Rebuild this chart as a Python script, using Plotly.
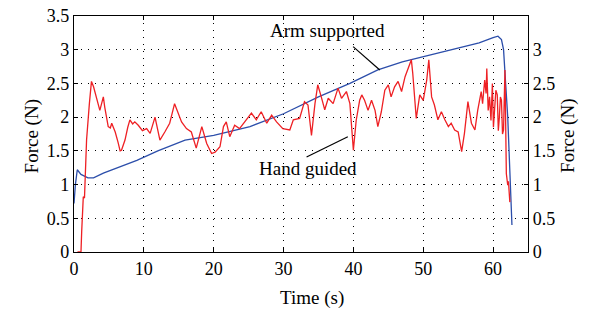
import plotly.graph_objects as go

# Arm supported (blue)
arm_t = [0.0, 0.2, 0.47, 1.0, 2.0, 2.8, 4.2, 6.0, 9.0, 12.0, 15.9, 20.0, 25.2, 30.0, 35.0,
         39.5, 43.5, 47.0, 50.9, 55.0, 58.0, 60.0, 60.7, 61.2, 61.5, 61.8, 62.1, 62.4, 62.7]
arm_f = [0.72, 1.0, 1.22, 1.15, 1.10, 1.10, 1.17, 1.24, 1.36, 1.50, 1.66, 1.73, 1.86, 2.05, 2.30,
         2.50, 2.70, 2.82, 2.92, 3.02, 3.10, 3.18, 3.20, 3.15, 3.00, 2.50, 2.00, 1.20, 0.40]

# Hand guided (red)
hand_t = [0.5, 1.0, 1.1, 1.33, 1.5, 1.8, 2.2, 2.5, 2.8, 3.2, 3.5, 3.7, 4.2, 4.4, 4.9, 5.2, 5.4,
          5.9, 6.3, 6.6, 6.8, 7.3, 7.7, 8.0, 8.4, 8.7, 9.2, 9.8, 10.4, 10.9, 11.6, 12.3, 13.0,
          13.7, 14.4, 14.9, 15.4, 16.1, 16.8, 17.5, 18.3, 19.0, 19.7, 20.2, 20.9, 21.4, 21.8,
          22.3, 23.0, 23.7, 24.5, 25.4, 26.1, 26.8, 27.6, 28.3, 29.0, 29.9, 30.9, 31.4, 32.3,
          33.0, 33.5, 34.0, 34.5, 34.9, 35.4, 35.9, 36.4, 37.1, 37.8, 38.3, 39.0, 39.5, 40.0,
          40.4, 40.9, 41.2, 41.6, 42.1, 42.6, 43.1, 43.5, 44.0, 44.5, 45.0, 45.4, 45.9, 46.4,
          46.9, 47.4, 47.8, 48.3, 48.5, 49.0, 49.5, 50.0, 50.5, 50.8, 51.2, 51.6, 52.1, 52.6,
          53.1, 53.6, 54.0, 54.5, 55.0, 55.5, 55.9, 56.4, 56.9, 57.4, 57.8, 58.1, 58.3, 58.5,
          58.8, 59.0, 59.1, 59.3, 59.5, 59.7, 59.9, 60.05, 60.2, 60.4, 60.6, 60.75, 60.9, 61.05,
          61.2, 61.35, 61.5, 61.7, 61.9, 62.1, 62.2, 62.4]
hand_f = [0.0, 0.0, 0.3, 0.82, 0.80, 1.66, 2.20, 2.53, 2.45, 2.30, 2.15, 2.10, 2.30, 2.15, 1.86,
          1.84, 1.91, 1.78, 1.63, 1.50, 1.51, 1.66, 1.85, 1.96, 1.90, 1.93, 1.88, 1.80, 1.83,
          1.76, 2.00, 1.66, 1.78, 1.91, 2.20, 2.06, 1.93, 1.83, 1.78, 1.54, 1.86, 1.61, 1.46,
          1.48, 1.56, 1.86, 1.93, 1.71, 1.88, 1.83, 1.93, 2.06, 1.96, 2.08, 1.91, 2.03, 1.93,
          1.83, 1.81, 1.96, 1.98, 2.23, 2.18, 1.73, 2.20, 2.48, 2.30, 2.11, 2.28, 2.20, 2.43,
          2.28, 2.38, 2.20, 1.51, 1.95, 2.25, 2.33, 2.25, 2.10, 2.25, 2.10, 1.86, 2.08, 2.40,
          2.48, 2.30, 2.45, 2.53, 2.38, 2.60, 2.72, 2.85, 2.65, 1.98, 2.33, 2.25, 2.55, 2.85,
          2.30, 2.18, 1.96, 2.08, 1.96, 1.86, 1.91, 1.81, 1.78, 1.49, 1.76, 2.23, 1.91, 1.81,
          2.10, 2.30, 2.38, 2.20, 2.55, 2.35, 2.72, 2.10, 2.30, 1.95, 2.50, 1.85, 2.15, 2.40,
          2.33, 1.80, 2.00, 2.30, 2.25, 1.75, 1.81, 2.70, 1.16, 0.99, 1.05, 0.74]

RED = "rgb(238,32,36)"
BLUE = "rgb(44,78,170)"
FONT = "Liberation Serif"

fig = go.Figure()
fig.add_trace(go.Scatter(x=arm_t, y=arm_f, mode="lines", line=dict(color=BLUE, width=1.3),
                         showlegend=False))
fig.add_trace(go.Scatter(x=hand_t, y=hand_f, mode="lines", line=dict(color=RED, width=1.3),
                         showlegend=False))
# invisible trace for right axis
fig.add_trace(go.Scatter(x=[0], y=[0], yaxis="y2", mode="markers",
                         marker=dict(opacity=0), showlegend=False, hoverinfo="skip"))

grid = dict(showgrid=True, gridcolor="black", griddash="1px,6px", gridwidth=1)
common = dict(ticks="inside", ticklen=4, tickcolor="black", showline=True,
              linecolor="black", linewidth=1.3, zeroline=False, automargin=False,
              tickfont=dict(size=18), ticklabeloverflow="allow")
fig.update_layout(
    width=595, height=312,
    margin=dict(l=74, r=67, t=16, b=60),
    paper_bgcolor="white", plot_bgcolor="white",
    font=dict(family=FONT, size=18, color="black"),
    xaxis=dict(range=[0, 65], tickvals=[0, 10, 20, 30, 40, 50, 60], mirror="ticks",
               **common, **grid),
    yaxis=dict(range=[0, 3.5], tickvals=[0, 0.5, 1, 1.5, 2, 2.5, 3, 3.5],
               ticktext=["0", "0.5", "1", "1.5", "2", "2.5", "3", "3.5"],
               **common, **grid),
    yaxis2=dict(range=[0, 3.5], tickvals=[0, 0.5, 1, 1.5, 2, 2.5, 3],
                ticktext=["0", "0.5", "1", "1.5", "2", "2.5", "3"],
                overlaying="y", side="right", showgrid=False, **common),
    shapes=[
        dict(type="line", xref="x", yref="y", x0=39.96, y0=3.046, x1=43.78, y1=2.70,
             line=dict(color="black", width=1.2)),
        dict(type="line", xref="x", yref="y", x0=33.3, y0=1.41, x1=39.2, y1=1.71,
             line=dict(color="black", width=1.2)),
    ],
    annotations=[
        dict(text="Force (N)", xref="paper", yref="paper", x=-0.121, y=0.49,
             textangle=-90, showarrow=False, font=dict(size=19)),
        dict(text="Force (N)", xref="paper", yref="paper", x=1.118, y=0.49,
             textangle=-90, showarrow=False, font=dict(size=19)),
        dict(text="Time (s)", xref="paper", yref="paper", x=0.524, y=-0.195,
             showarrow=False, font=dict(size=19), yanchor="middle"),
        dict(text="Arm supported", x=36.3, y=3.28, xref="x", yref="y",
             showarrow=False, font=dict(size=19), yanchor="middle"),
        dict(text="Hand guided", x=33.5, y=1.24, xref="x", yref="y",
             showarrow=False, font=dict(size=19), yanchor="middle"),
    ],
)
fig.write_html("out.html", config={"displayModeBar": False},
               post_script="document.body.style.margin='0';")
